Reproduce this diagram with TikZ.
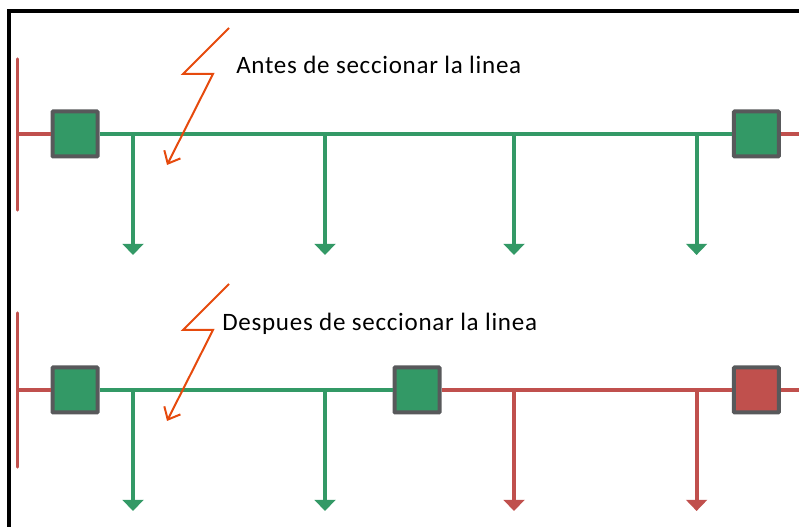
\documentclass[tikz,border=0pt]{standalone}
\usepackage{fontspec}
\setmainfont{Carlito}
\newfontfamily\rotulofont[LetterSpace=2.9]{Carlito}
\usetikzlibrary{arrows.meta}
\definecolor{verde}{HTML}{339966}
\definecolor{rojo}{HTML}{C0504D}
\definecolor{gris}{HTML}{58595B}
\definecolor{rayo}{HTML}{E64A0D}

\begin{document}
\begin{tikzpicture}
    \tikzstyle{box}=[rectangle, draw=gris, line width=0.1cm, rounded corners=0.02cm, minimum size=1.125cm, inner sep=0]
    \tikzstyle{linea}=[line width=0.085cm]
    \tikzstyle{carga}=[line width=0.095cm, -{Triangle[length=0.28cm,width=0.52cm]}]
    \tikzstyle{rayo}=[draw=rayo, line width=0.05cm, -{Straight Barb[length=0.26cm,width=0.45cm]}]
    \tikzstyle{rotulo}=[anchor=base west, inner sep=0, font=\rotulofont\fontsize{17.8}{21}\selectfont]
    \useasboundingbox (0,0) rectangle (19.975,13.175);

    \coordinate (f1) at (0.225,0);
    \coordinate (f2) at (0.225,12.9);
    \coordinate (f3) at (19.975,12.9);
    \draw[line width=0.1cm] (f1) -- (f2) -- (f3);

    % antes
    \coordinate (p1) at (0.4375,11.7);
    \coordinate (p2) at (0.4375,7.925);
    \coordinate (j1) at (0.4375,9.825);
    \coordinate (e1) at (19.975,9.825);
    \coordinate (t1) at (3.325,9.825);
    \coordinate (t2) at (8.125,9.825);
    \coordinate (t3) at (12.85,9.825);
    \coordinate (t4) at (17.415,9.825);
    \coordinate (d1) at (3.325,6.8);
    \coordinate (d2) at (8.125,6.8);
    \coordinate (d3) at (12.85,6.8);
    \coordinate (d4) at (17.415,6.8);
    \node[box, fill=verde] (a1) at (1.875,9.825) {};
    \node[box, fill=verde] (a2) at (18.91,9.825) {};
    \draw[linea, rojo, line cap=round] (p1) -- (p2);
    \draw[linea, rojo] (j1) -- (a1);
    \draw[linea, rojo] (a2) -- (e1);
    \draw[linea, verde] (a1) -- (a2);
    \draw[carga, verde] (t1) -- (d1);
    \draw[carga, verde] (t2) -- (d2);
    \draw[carga, verde] (t3) -- (d3);
    \draw[carga, verde] (t4) -- (d4);

    % despues
    \coordinate (q1) at (0.4375,5.35);
    \coordinate (q2) at (0.4375,1.5);
    \coordinate (j2) at (0.4375,3.425);
    \coordinate (e2) at (19.975,3.425);
    \coordinate (u1) at (3.325,3.425);
    \coordinate (u2) at (8.125,3.425);
    \coordinate (u3) at (12.85,3.425);
    \coordinate (u4) at (17.415,3.425);
    \coordinate (v1) at (3.325,0.4);
    \coordinate (v2) at (8.125,0.4);
    \coordinate (v3) at (12.85,0.4);
    \coordinate (v4) at (17.415,0.4);
    \node[box, fill=verde] (b1) at (1.875,3.425) {};
    \node[box, fill=verde] (b2) at (10.425,3.425) {};
    \node[box, fill=rojo] (b3) at (18.91,3.425) {};
    \draw[linea, rojo, line cap=round] (q1) -- (q2);
    \draw[linea, rojo] (j2) -- (b1);
    \draw[linea, verde] (b1) -- (b2);
    \draw[linea, rojo] (b2) -- (b3);
    \draw[linea, rojo] (b3) -- (e2);
    \draw[carga, verde] (u1) -- (v1);
    \draw[carga, verde] (u2) -- (v2);
    \draw[carga, rojo] (u3) -- (v3);
    \draw[carga, rojo] (u4) -- (v4);

    % rayos
    \coordinate (r1) at (5.725,12.475);
    \coordinate (r2) at (4.575,11.325);
    \coordinate (r3) at (5.325,11.325);
    \coordinate (r4) at (4.175,9.05);
    \draw[rayo] (r1) -- (r2) -- (r3) -- (r4);
    \coordinate (s1) at (5.725,6.075);
    \coordinate (s2) at (4.575,4.925);
    \coordinate (s3) at (5.325,4.925);
    \coordinate (s4) at (4.175,2.65);
    \draw[rayo] (s1) -- (s2) -- (s3) -- (s4);

    \node[rotulo] (x1) at (5.9,11.33) {Antes de seccionar la linea};
    \node[rotulo] (x2) at (5.55,4.9) {Despues de seccionar la linea};
\end{tikzpicture}
\end{document}
